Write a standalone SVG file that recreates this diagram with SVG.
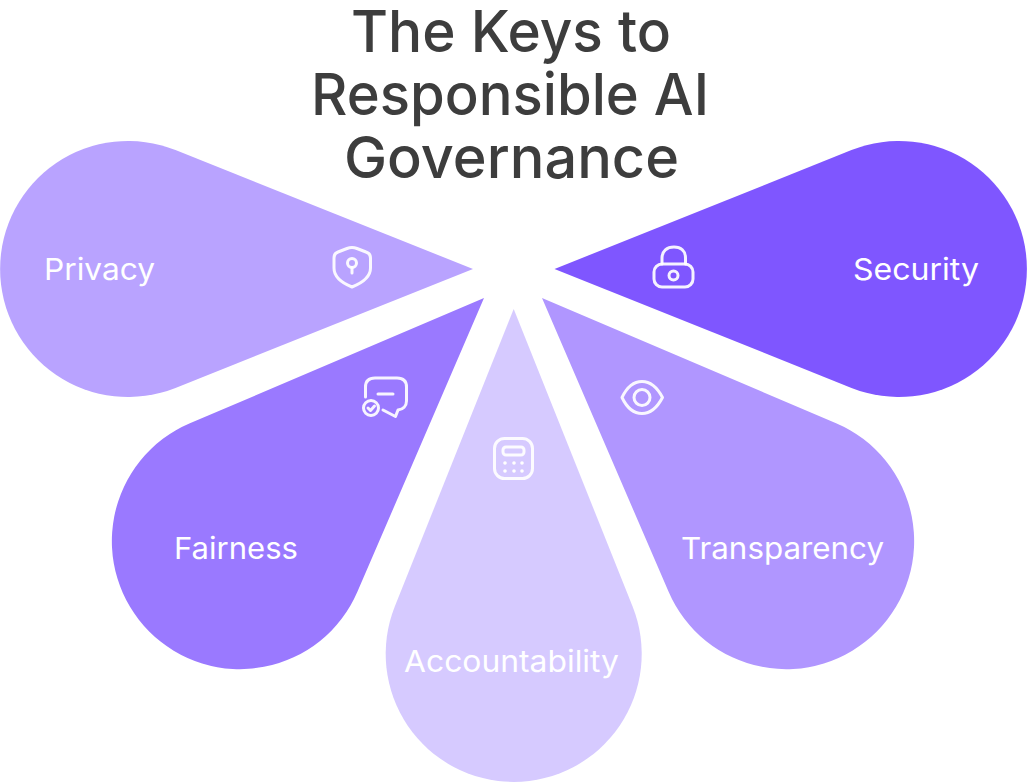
<svg xmlns="http://www.w3.org/2000/svg" width="1028" height="783" viewBox="0 0 1028 783">
<style>
.t{font-family:"Inter","Liberation Sans",sans-serif;font-weight:500;fill:#3d3d3d;font-size:58px}
.l{font-family:"Inter","Liberation Sans",sans-serif;font-weight:400;font-size:30px;fill:#fff}
.i{fill:none;stroke:#fff;stroke-width:3;stroke-linecap:round;stroke-linejoin:round;opacity:.92}
.d{fill:#fff;stroke:none}
</style>
<rect width="1028" height="783" fill="#fff"/>
<g id="title">
<text class="t" x="351" y="52" textLength="320" lengthAdjust="spacingAndGlyphs">The Keys to</text>
<text class="t" x="311" y="115" textLength="398" lengthAdjust="spacingAndGlyphs">Responsible AI</text>
<text class="t" x="344" y="178" textLength="335" lengthAdjust="spacingAndGlyphs">Governance</text>
</g>
<g id="privacy">
<path fill="#B9A3FF" d="M473 269L175.500 150.100A128 128 0 1 0 175.500 387.900Z"/>
<text class="l" x="44" y="280" textLength="111" lengthAdjust="spacingAndGlyphs">Privacy</text>
<path class="i" d="M347 248.500Q352 246.500 357 248.500L366 252Q370.500 253.500 370.500 258V268C370.500 277 362 283 352 287C342 283 334 277 334 268V258Q334 253.500 338 252Z"/>
<circle class="i" cx="352" cy="263" r="4.500"/><path class="i" d="M352 267.500V273"/>
</g>
<g id="security">
<path fill="#7F56FF" d="M554.500 269L851.500 150.100A128 128 0 1 1 851.500 387.900Z"/>
<text class="l" x="853" y="280" textLength="126" lengthAdjust="spacingAndGlyphs">Security</text>
<rect class="i" x="654" y="264" width="39" height="23" rx="8"/>
<path class="i" d="M662 264V258C662 251 667 247 674 247C681 247 685.500 251 685.500 258V264"/>
<circle class="i" cx="673.500" cy="275.500" r="4.500"/>
</g>
<g id="fairness">
<path fill="#9A79FF" d="M484 298L357.500 591.600A128 128 0 1 1 189.900 423.300Z"/>
<text class="l" x="174" y="559" textLength="124" lengthAdjust="spacingAndGlyphs">Fairness</text>
<path class="i" d="M365.500 397V387C365.500 381 369 378 375 378H397C403 378 406.500 381 406.500 387V401C406.500 406 403 409.500 398 410L395.500 416.500L383 410"/>
<path class="i" d="M378 394H393"/>
<circle class="i" cx="371" cy="408" r="7.500"/><path class="i" d="M368 408L370.500 410.500L374.500 406"/>
</g>
<g id="transparency">
<path fill="#B096FF" d="M542 298L668.500 591.600A128 128 0 1 0 836.100 423.300Z"/>
<text class="l" x="681" y="559" textLength="203" lengthAdjust="spacingAndGlyphs">Transparency</text>
<path class="i" d="M622 397.500C627 387 634 381.500 642 381.500C650 381.500 657 387 662.500 397.500C657 408 650 413.500 642 413.500C634 413.500 627 408 622 397.500Z"/>
<circle class="i" cx="642" cy="397.500" r="8"/>
</g>
<g id="accountability">
<path fill="#D6CAFF" d="M513.700 309L632.600 606.500A128 128 0 1 1 394.800 606.500Z"/>
<text class="l" x="404" y="672" textLength="215" lengthAdjust="spacingAndGlyphs">Accountability</text>
<rect class="i" x="494.500" y="438.500" width="38" height="40" rx="10"/>
<rect class="i" x="503" y="447" width="21" height="8" rx="3"/>
<circle class="d" cx="505" cy="463" r="1.800"/><circle class="d" cx="514" cy="463" r="1.800"/><circle class="d" cx="522" cy="463" r="1.800"/>
<circle class="d" cx="505" cy="471" r="1.800"/><circle class="d" cx="514" cy="471" r="1.800"/><circle class="d" cx="522" cy="471" r="1.800"/>
</g>
<g id="connectors"></g>
</svg>
